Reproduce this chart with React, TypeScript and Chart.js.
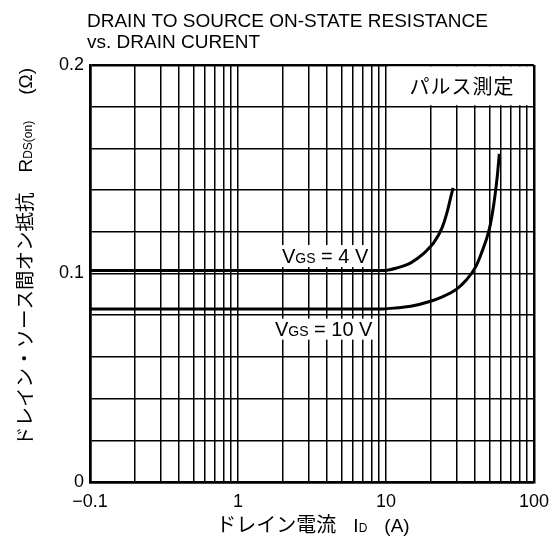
import { useEffect, useRef } from 'react';
import { Chart, registerables } from 'chart.js';

Chart.register(...registerables);

// ---- data ----
const titleLines = ['DRAIN TO SOURCE ON-STATE RESISTANCE', 'vs. DRAIN CURENT'];

const xGridValues = [
  0.1, 0.2, 0.3, 0.4, 0.5, 0.6, 0.7, 0.8, 0.9,
  1, 2, 3, 4, 5, 6, 7, 8, 9,
  10, 20, 30, 40, 50, 60, 70, 80, 90, 100,
];
const xLabelValues = [0.1, 1, 10, 100];
const xLabelTexts = ['\u22120.1', '1', '10', '100'];

const yGridValues = [0, 0.02, 0.04, 0.06, 0.08, 0.1, 0.12, 0.14, 0.16, 0.18, 0.2];
const yLabelValues = [0, 0.1, 0.2];
const yLabelTexts = ['0', '0.1', '0.2'];

// VGS = 4 V
const id4V = [0.1, 9.5, 11.9, 14.7, 18.0, 20.0, 21.0, 23.9, 25.8, 27.5, 28.4];
const rds4V = [0.1014, 0.1014, 0.1027, 0.1051, 0.1096, 0.113, 0.1147, 0.1219, 0.1291, 0.1371, 0.1411];

// VGS = 10 V
const id10V = [0.1, 9.5, 12.0, 14.7, 20.0, 24.0, 30.0, 35.0, 40.0, 44.0, 50.0, 53.7, 56.5, 58.3];
const rds10V = [0.083, 0.083, 0.0836, 0.0843, 0.0867, 0.0888, 0.0925, 0.097, 0.1027, 0.1095, 0.1215, 0.1339, 0.1467, 0.1574];

const noteText = 'パルス測定';
const yTitleJa = 'ドレイン・ソース間オン抵抗';
const xTitleJa = 'ドレイン電流';

const LATIN = '"Liberation Sans", Arial, sans-serif';
const CJK = '"Noto Sans CJK JP", "Noto Sans CJK SC", sans-serif';

type Run = { text: string; font: string; dy?: number; gap?: number };

function runsWidth(ctx: CanvasRenderingContext2D, runs: Run[]) {
  let w = 0;
  for (const r of runs) {
    ctx.font = r.font;
    w += ctx.measureText(r.text).width + (r.gap || 0);
  }
  return w;
}
function drawRuns(ctx: CanvasRenderingContext2D, runs: Run[], x: number, y: number) {
  let cx = x;
  for (const r of runs) {
    ctx.font = r.font;
    ctx.fillText(r.text, cx, y + (r.dy || 0));
    cx += ctx.measureText(r.text).width + (r.gap || 0);
  }
  return cx - x;
}

const near = (a: number, b: number) => Math.abs(a - b) <= 1e-9 * Math.max(1, Math.abs(b));

const decorPlugin = {
  id: 'decor',
  afterDraw(chart: any) {
    const ctx: CanvasRenderingContext2D = chart.ctx;
    const xs = chart.scales.x;
    const ys = chart.scales.y;
    ctx.save();
    ctx.fillStyle = '#000';
    ctx.textAlign = 'left';
    ctx.textBaseline = 'alphabetic';

    // Title
    ctx.font = `19px ${LATIN}`;
    ctx.fillText(titleLines[0], 87, 27);
    ctx.fillText(titleLines[1], 87, 48);

    // Pulse measurement box (top right cell)
    const bx0 = xs.getPixelForValue(10);
    const bx1 = xs.getPixelForValue(100);
    const by0 = ys.getPixelForValue(0.2);
    const by1 = ys.getPixelForValue(0.18);
    ctx.fillStyle = '#fff';
    ctx.fillRect(bx0 + 1.5, by0 + 1.5, bx1 - bx0 - 3, by1 - by0 - 3);
    ctx.fillStyle = '#000';
    ctx.font = `20px ${CJK}`;
    (ctx as any).letterSpacing = '1px';
    ctx.textAlign = 'center';
    ctx.textBaseline = 'middle';
    ctx.fillText(noteText, (bx0 + bx1) / 2 + 2, (by0 + by1) / 2 + 1);
    (ctx as any).letterSpacing = '0px';
    ctx.textAlign = 'left';
    ctx.textBaseline = 'alphabetic';

    // VGS labels
    const vgs = (val: string): Run[] => [
      { text: 'V', font: `20px ${LATIN}` },
      { text: 'GS', font: `14px ${LATIN}` },
      { text: ' = ' + val + ' V', font: `20px ${LATIN}` },
    ];
    const l4 = vgs('4');
    const w4 = runsWidth(ctx, l4);
    const x4 = xs.getPixelForValue(7.6) - w4;
    const b4 = ys.getPixelForValue(0.105);
    ctx.fillStyle = '#fff';
    ctx.fillRect(x4 - 3, b4 - 18, w4 + 5, 22);
    ctx.fillStyle = '#000';
    drawRuns(ctx, l4, x4, b4);

    const l10 = vgs('10');
    const w10 = runsWidth(ctx, l10);
    const x10 = xs.getPixelForValue(8.1) - w10;
    const b10 = ys.getPixelForValue(0.0702);
    ctx.fillStyle = '#fff';
    ctx.fillRect(x10 - 3, b10 - 17, w10 + 5, 21);
    ctx.fillStyle = '#000';
    drawRuns(ctx, l10, x10, b10);

    // X axis title
    const xt: Run[] = [
      { text: xTitleJa, font: `20px ${CJK}`, gap: 17 },
      { text: 'I', font: `19px ${LATIN}` },
      { text: 'D', font: `12px ${LATIN}`, gap: 17 },
      { text: '(A)', font: `19px ${LATIN}` },
    ];
    const xw = runsWidth(ctx, xt);
    drawRuns(ctx, xt, (xs.left + xs.right) / 2 - xw / 2 + 1, 532);

    // Y axis title (rotated)
    const yt: Run[] = [
      { text: yTitleJa, font: `19.5px ${CJK}`, gap: 20 },
      { text: 'R', font: `19px ${LATIN}` },
      { text: 'DS(on)', font: `12px ${LATIN}`, gap: 26 },
      { text: '(\u03A9)', font: `19px ${LATIN}` },
    ];
    const yw = runsWidth(ctx, yt);
    ctx.translate(32, 257);
    ctx.rotate(-Math.PI / 2);
    drawRuns(ctx, yt, -yw / 2, 0);

    ctx.restore();
  },
};

export default function App() {
  const ref = useRef<HTMLCanvasElement>(null);
  useEffect(() => {
    document.body.style.margin = '0';
    const canvas = ref.current;
    if (!canvas) return;
    const chart = new Chart(canvas, {
      type: 'line',
      data: {
        datasets: [
          {
            label: 'VGS = 4 V',
            data: id4V.map((x, i) => ({ x, y: rds4V[i] })),
            borderColor: '#000',
            borderWidth: 3,
            pointRadius: 0,
            cubicInterpolationMode: 'monotone',
            fill: false,
          },
          {
            label: 'VGS = 10 V',
            data: id10V.map((x, i) => ({ x, y: rds10V[i] })),
            borderColor: '#000',
            borderWidth: 3,
            pointRadius: 0,
            cubicInterpolationMode: 'monotone',
            fill: false,
          },
        ],
      },
      options: {
        responsive: false,
        animation: false,
        devicePixelRatio: 1,
        layout: { padding: { top: 65, right: 20, left: 0, bottom: 0 } },
        plugins: { legend: { display: false }, tooltip: { enabled: false } },
        scales: {
          x: {
            type: 'logarithmic',
            min: 0.1,
            max: 100,
            afterBuildTicks: (scale: any) => {
              scale.ticks = xGridValues.map((v) => ({ value: v }));
            },
            afterFit: (scale: any) => {
              scale.height = 64;
            },
            ticks: {
              autoSkip: false,
              maxRotation: 0,
              padding: 9,
              color: '#000',
              font: { family: LATIN, size: 18 },
              callback: (value: any) => {
                const i = xLabelValues.findIndex((v) => near(Number(value), v));
                return i >= 0 ? xLabelTexts[i] : '';
              },
            },
            grid: {
              color: '#000',
              lineWidth: (c: any) => (c.tick && (near(c.tick.value, 100) || near(c.tick.value, 0.1)) ? 2.5 : 1.5),
              drawTicks: false,
            },
            border: { display: true, color: '#000', width: 2.5 },
          },
          y: {
            type: 'linear',
            min: 0,
            max: 0.2,
            afterBuildTicks: (scale: any) => {
              scale.ticks = yGridValues.map((v) => ({ value: v }));
            },
            afterFit: (scale: any) => {
              scale.width = 90;
            },
            ticks: {
              padding: 6,
              color: '#000',
              font: { family: LATIN, size: 18 },
              callback: (value: any) => {
                const i = yLabelValues.findIndex((v) => Math.abs(v - Number(value)) < 1e-9);
                return i >= 0 ? yLabelTexts[i] : '';
              },
            },
            grid: {
              color: '#000',
              lineWidth: (c: any) => (c.tick && (Math.abs(c.tick.value - 0.2) < 1e-9 || Math.abs(c.tick.value) < 1e-9) ? 2.5 : 1.5),
              drawTicks: false,
            },
            border: { display: true, color: '#000', width: 2.5 },
          },
        },
      } as any,
      plugins: [decorPlugin],
    });
    return () => chart.destroy();
  }, []);
  return (
    <div style={{ width: 558, height: 546, background: '#fff' }}>
      <canvas ref={ref} width={558} height={546} style={{ display: 'block' }} />
    </div>
  );
}
